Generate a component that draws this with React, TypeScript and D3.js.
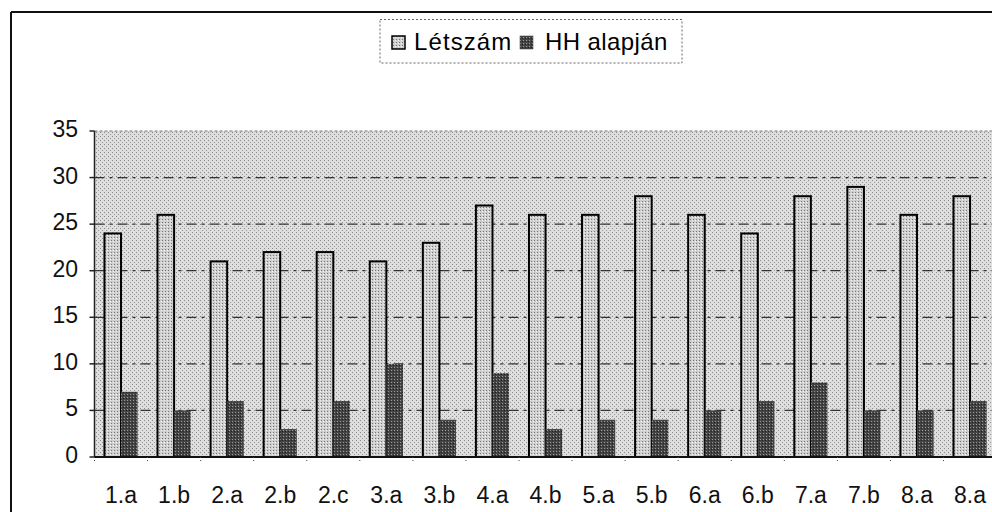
import React from "react";
import * as d3 from "d3";

const categories = ["1.a", "1.b", "2.a", "2.b", "2.c", "3.a", "3.b", "4.a", "4.b", "5.a", "5.b", "6.a", "6.b", "7.a", "7.b", "8.a", "8.a "];
const letszam = [24, 26, 21, 22, 22, 21, 23, 27, 26, 26, 28, 26, 24, 28, 29, 26, 28];
const hhAlapjan = [7, 5, 6, 3, 6, 10, 4, 9, 3, 4, 4, 5, 6, 8, 5, 5, 6];
const seriesNames = ["Létszám", "HH alapján"];
const yTicks = [0, 5, 10, 15, 20, 25, 30, 35];

const W = 992;
const H = 512;
const plot = { left: 94.5, right: 996.6, top: 131, bottom: 457 };
const FONT = "'Liberation Sans', Arial, sans-serif";

export default function App() {
  const x = d3
    .scaleBand<string>()
    .domain(categories)
    .range([plot.left, plot.right])
    .paddingInner(0.375)
    .paddingOuter(0.1875);
  const xs = d3.scaleBand<string>().domain(seriesNames).range([0, x.bandwidth()]).padding(0);
  const y = d3.scaleLinear().domain([0, 35]).range([plot.bottom, plot.top]);
  const step = x.step();
  const bandStart = (c: string) => (x(c) as number) - (step - x.bandwidth()) / 2;

  return (
    <svg width={W} height={H} style={{ position: "absolute", left: 0, top: 0, background: "#fff" }}>
      <defs>
        <pattern id="bgPat" width="4" height="4" patternUnits="userSpaceOnUse">
          <rect width="4" height="4" fill="#dedede" />
          <rect x="0" y="0" width="1" height="1" fill="#888" />
          <rect x="2" y="2" width="1" height="1" fill="#999" />
        </pattern>
        <pattern id="lightPat" width="3" height="3" patternUnits="userSpaceOnUse">
          <rect width="3" height="3" fill="#cfcfcf" />
          <rect x="0" y="0" width="1" height="1" fill="#777" />
          <rect x="2" y="1" width="1" height="1" fill="#f2f2f2" />
        </pattern>
        <pattern id="darkPat" width="3" height="3" patternUnits="userSpaceOnUse">
          <rect width="3" height="3" fill="#444" />
          <rect x="1" y="1" width="1" height="1" fill="#9a9a9a" />
          <rect x="0" y="2" width="1" height="1" fill="#222" />
        </pattern>
      </defs>

      {/* chart border */}
      <line x1={11} y1={12} x2={W} y2={12} stroke="#111" strokeWidth={2} />
      <line x1={11} y1={12} x2={11} y2={H} stroke="#111" strokeWidth={2} />

      {/* legend */}
      <rect x={380} y={19.5} width={302} height={43.5} fill="#fff" stroke="#666" strokeWidth={1} strokeDasharray="2,2" />
      <rect x={392} y={36} width={13} height={13} fill="url(#lightPat)" stroke="#000" strokeWidth={1.5} />
      <text x={414} y={50} fontFamily={FONT} fontSize={24} fill="#000" letterSpacing={1.1}>{seriesNames[0]}</text>
      <rect x={520} y={36} width={13} height={13} fill="url(#darkPat)" stroke="#333" strokeWidth={0.5} />
      <text x={545} y={50} fontFamily={FONT} fontSize={24} fill="#000" letterSpacing={0.4}>{seriesNames[1]}</text>

      {/* plot area */}
      <rect x={plot.left} y={plot.top} width={plot.right - plot.left} height={plot.bottom - plot.top} fill="url(#bgPat)" />
      <line x1={plot.left} y1={plot.top} x2={plot.right} y2={plot.top} stroke="#777" strokeWidth={1} strokeDasharray="3,2" />

      {/* gridlines */}
      {yTicks.filter((t) => t > 0 && t < 35).map((t) => (
        <line key={t} x1={plot.left} x2={plot.right} y1={y(t)} y2={y(t)} stroke="#333" strokeWidth={1.2} strokeDasharray="10,5,3,5" />
      ))}

      {/* bars */}
      {categories.map((c, i) => (
        <g key={c}>
          <rect
            x={(x(c) as number) + (xs(seriesNames[0]) as number)}
            y={y(letszam[i])}
            width={xs.bandwidth()}
            height={y(0) - y(letszam[i])}
            fill="url(#lightPat)"
            stroke="#000"
            strokeWidth={2}
          />
          <rect
            x={(x(c) as number) + (xs(seriesNames[1]) as number)}
            y={y(hhAlapjan[i])}
            width={xs.bandwidth()}
            height={y(0) - y(hhAlapjan[i])}
            fill="url(#darkPat)"
          />
        </g>
      ))}

      {/* axes */}
      <line x1={plot.left} x2={plot.left} y1={plot.top} y2={plot.bottom} stroke="#222" strokeWidth={1.5} />
      <line x1={plot.left} x2={plot.right} y1={plot.bottom} y2={plot.bottom} stroke="#111" strokeWidth={2} />
      {yTicks.map((t) => (
        <g key={t}>
          <line x1={plot.left - 5} x2={plot.left} y1={y(t)} y2={y(t)} stroke="#222" strokeWidth={1.5} />
          <text x={78} y={y(t) + 6} textAnchor="end" fontFamily={FONT} fontSize={23} fill="#111">{t}</text>
        </g>
      ))}
      {categories.map((c) => (
        <line key={"t" + c} x1={bandStart(c)} x2={bandStart(c)} y1={plot.bottom} y2={plot.bottom + 5} stroke="#444" strokeWidth={1} strokeDasharray="1,2" />
      ))}
      {categories.map((c) => (
        <text key={"l" + c} x={(x(c) as number) + x.bandwidth() / 2} y={503} textAnchor="middle" fontFamily={FONT} fontSize={23} fill="#111">{c.trim()}</text>
      ))}
    </svg>
  );
}
